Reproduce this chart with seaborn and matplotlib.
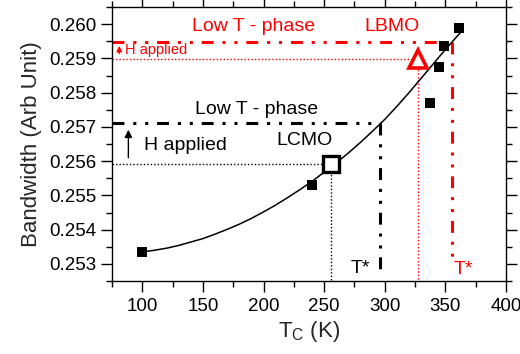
import matplotlib
matplotlib.use("Agg")
import matplotlib.pyplot as plt
import seaborn as sns
import pandas as pd

# Measured samples (black filled squares)
tc_samples = [100, 240, 337, 345, 349, 361]
bw_samples = [0.25335, 0.2553, 0.25769, 0.25874, 0.25935, 0.2599]

# Guide-to-the-eye curve through the samples
curve_tc = [100, 110, 120, 130, 140, 150, 160, 170, 180, 190, 200, 210, 220, 230, 240,
            250, 260, 270, 280, 290, 300, 310, 320, 330, 340, 350, 360, 364]
curve_bw = [0.25335, 0.25340, 0.25346, 0.25354, 0.25364, 0.25374, 0.25387, 0.25401,
            0.25416, 0.25433, 0.25452, 0.25472, 0.25494, 0.25517, 0.25541, 0.25568,
            0.25595, 0.25624, 0.25655, 0.25688, 0.25722, 0.25760, 0.25800, 0.25842,
            0.25884, 0.25926, 0.25966, 0.25982]

# LCMO and LBMO compounds
lcmo_tc, lcmo_bw = 255.7, 0.25591
lbmo_tc, lbmo_bw = 327.6, 0.25898

# Low-T phase levels and T* positions
lcmo_low_bw, lcmo_tstar = 0.25711, 296
lbmo_low_bw, lbmo_tstar = 0.25949, 355.6

sns.set_style("ticks")
plt.rcParams["font.family"] = ["Liberation Sans", "DejaVu Sans"]
plt.rcParams["mathtext.fontset"] = "custom"
plt.rcParams["mathtext.rm"] = "Liberation Sans"
plt.rcParams["mathtext.it"] = "Liberation Sans"
plt.rcParams["mathtext.default"] = "regular"

fig = plt.figure(figsize=(5.2, 3.54), dpi=100)
ax = fig.add_axes([0.2154, 0.206, 0.973 - 0.2154, 0.980 - 0.206])

xmin, xmax = 75, 400
ymin, ymax = 0.2525, 0.2605
red = "#ff0000"

dashdotdot = (0, (3.9, 2.9, 1.0, 2.9, 1.0, 2.9))
dotted = (0, (1, 1.5))

# Dotted guides to the compounds
ax.plot([xmin, lcmo_tc], [lcmo_bw, lcmo_bw], color="black", lw=1.0, ls=dotted)
ax.plot([lcmo_tc, lcmo_tc], [lcmo_bw, ymin], color="black", lw=1.0, ls=dotted)
ax.plot([xmin, lbmo_tc], [lbmo_bw, lbmo_bw], color=red, lw=1.0, ls=dotted)
ax.plot([lbmo_tc, lbmo_tc], [lbmo_bw, ymin], color=red, lw=1.0, ls=dotted)

# Low-T phase boundaries
ax.plot([xmin, lcmo_tstar], [lcmo_low_bw, lcmo_low_bw], color="black", lw=2.2,
        ls=dashdotdot, dash_capstyle="butt")
ax.plot([lcmo_tstar, lcmo_tstar], [lcmo_low_bw, 0.25272], color="black", lw=2.2,
        ls=dashdotdot, dash_capstyle="butt")
ax.plot([xmin, lbmo_tstar], [lbmo_low_bw, lbmo_low_bw], color=red, lw=2.2,
        ls=dashdotdot, dash_capstyle="butt")
ax.plot([lbmo_tstar, lbmo_tstar], [lbmo_low_bw, 0.25298], color=red, lw=2.2,
        ls=dashdotdot, dash_capstyle="butt")

curve_df = pd.DataFrame({"tc": curve_tc, "bw": curve_bw})
sns.lineplot(data=curve_df, x="tc", y="bw", ax=ax, color="black", lw=1.1, sort=True)

samples_df = pd.DataFrame({"tc": tc_samples, "bw": bw_samples})
sns.scatterplot(data=samples_df, x="tc", y="bw", ax=ax, marker="s", s=60,
                color="black", edgecolor="black", linewidth=0, zorder=5)

ax.plot([lcmo_tc], [lcmo_bw], marker="s", ms=11, mfc="white", mec="black", mew=2.4, zorder=6)
ax.plot([lbmo_tc], [lbmo_bw], marker="^", ms=13, mfc="white", mec=red, mew=2.6, zorder=6)

# Field arrows
ax.annotate("", xy=(88.5, 0.25700), xytext=(88.5, 0.25602),
            arrowprops=dict(arrowstyle="-|>", color="black", lw=1.0, mutation_scale=11))
ax.annotate("", xy=(81, 0.25945), xytext=(81, 0.25906),
            arrowprops=dict(arrowstyle="-|>", color=red, lw=1.0, mutation_scale=8))

# Labels
ax.text(192, 0.25992, "Low T - phase", color=red, fontsize=14, ha="center", va="center")
ax.text(306, 0.25992, "LBMO", color=red, fontsize=14, ha="center", va="center")
ax.text(86, 0.25924, "H applied", color=red, fontsize=10.5, ha="left", va="center")
ax.text(194, 0.25751, "Low T - phase", color="black", fontsize=14, ha="center", va="center")
ax.text(101, 0.25646, "H applied", color="black", fontsize=14, ha="left", va="center")
ax.text(234, 0.25660, "LCMO", color="black", fontsize=14, ha="center", va="center")
ax.text(280, 0.25288, "T*", color="black", fontsize=14, ha="center", va="center")
ax.text(365, 0.25285, "T*", color=red, fontsize=14, ha="center", va="center")

ax.set_xlim(xmin, xmax)
ax.set_ylim(ymin, ymax)
ax.set_xticks([100, 150, 200, 250, 300, 350, 400])
ax.set_xticks([75, 125, 175, 225, 275, 325, 375], minor=True)
yt = [0.253, 0.254, 0.255, 0.256, 0.257, 0.258, 0.259, 0.260]
ax.set_yticks(yt)
ax.set_yticklabels([f"{v:.3f}" for v in yt])
ax.set_yticks([0.2525 + 0.001 * i for i in range(8)] + [0.2605], minor=True)
ax.tick_params(which="both", direction="out", top=True, right=True, width=1.0, colors="black",
               labelsize=13.5)
ax.tick_params(which="major", length=8)
ax.tick_params(which="minor", length=4.5)
ax.tick_params(axis="x", pad=4)
for s in ax.spines.values():
    s.set_visible(True)
    s.set_linewidth(1.0)
    s.set_color("black")

ax.set_xlabel("T$_{C}$ (K)", fontsize=16, labelpad=3)
ax.set_ylabel("Bandwidth (Arb Unit)", fontsize=16, labelpad=5)

fig.savefig("out.png", dpi=100)
